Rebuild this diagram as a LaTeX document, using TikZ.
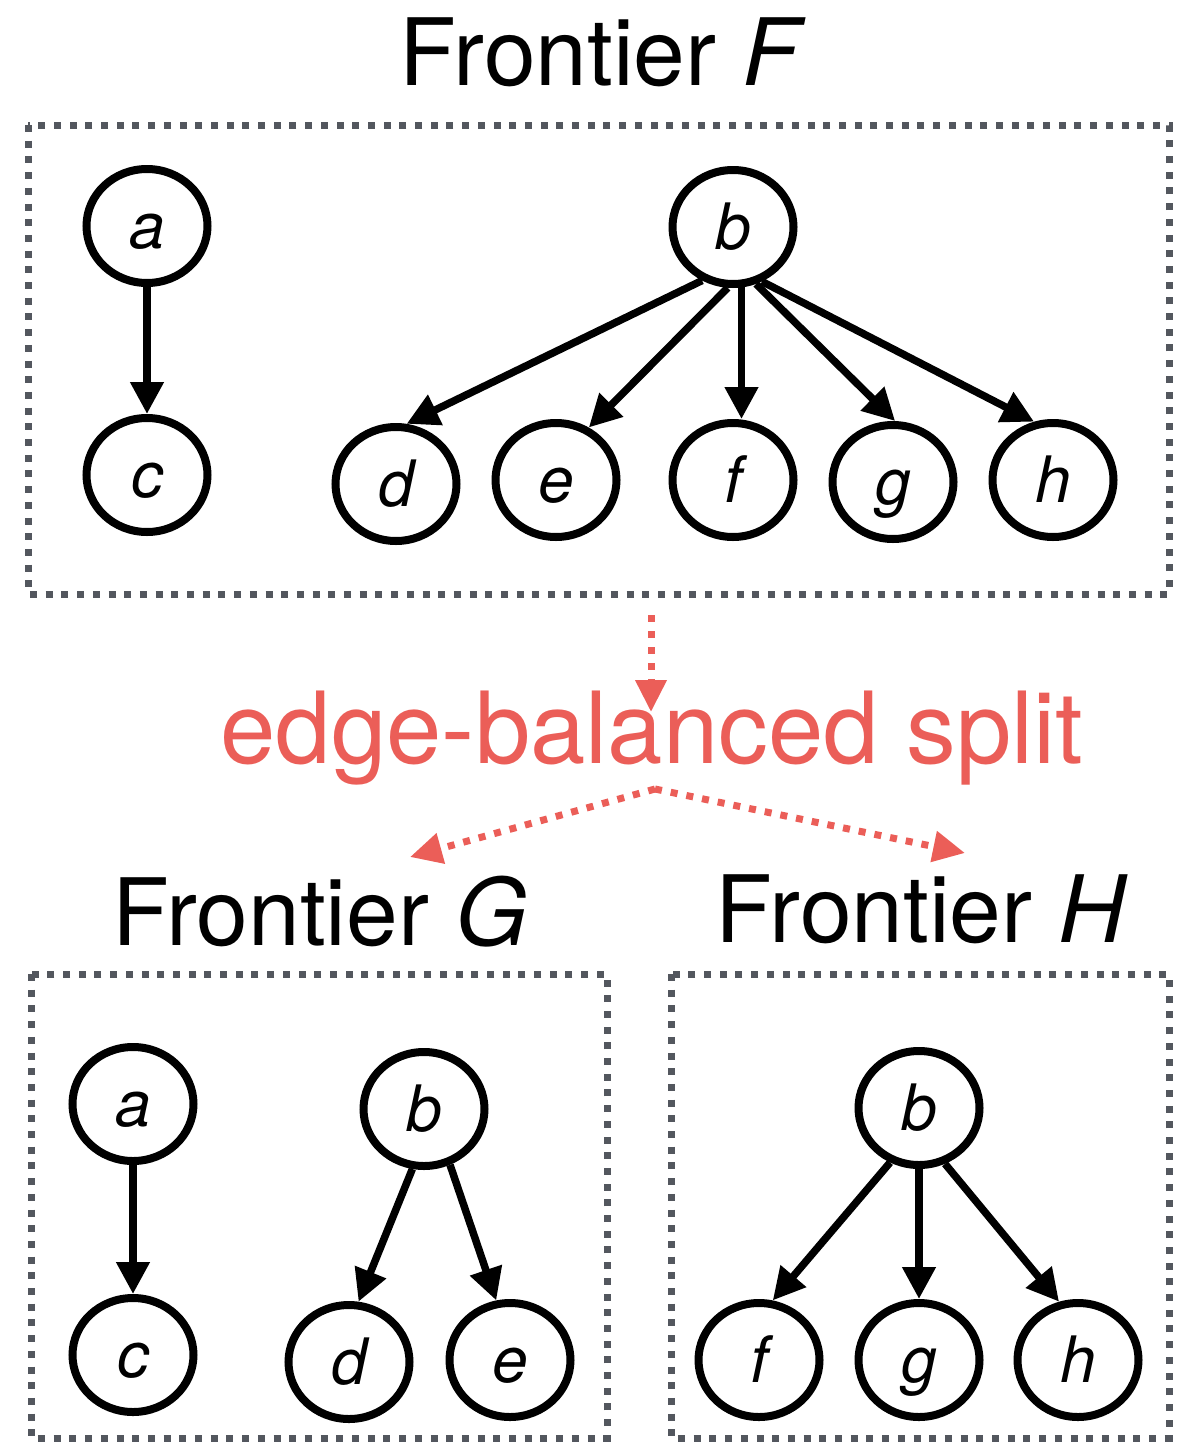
\documentclass[tikz,border=0pt]{standalone}
\usepackage{fontspec}
\setmainfont{TeX Gyre Heros}
\usetikzlibrary{shapes.geometric,arrows.meta}
\definecolor{boxgray}{HTML}{53575E}
\definecolor{splitred}{HTML}{EB5E58}
\tikzset{
  vtx/.style={ellipse,draw=black,line width=8pt,minimum width=121pt,minimum height=114pt,inner sep=0pt,
    text height=44pt,text depth=0pt,font=\fontsize{64}{70}\selectfont\itshape},
  edgearrow/.style={line width=7.5pt,-{Triangle[length=32pt,width=32pt]}},
  boxline/.style={draw=boxgray,line width=7pt,dash pattern=on 7pt off 8.7pt},
  splitarrow/.style={draw=splitred,line width=7pt,dash pattern=on 7pt off 9pt,-{Triangle[length=32pt,width=30pt]}},
  title/.style={anchor=base,font=\fontsize{93}{100}\selectfont,inner sep=0pt}
}
\begin{document}
\begin{tikzpicture}[x=1pt,y=-1pt]
\useasboundingbox (0,0) rectangle (1179,1445);
% ---------- Frontier F ----------
\node[title] (tF) at (603,85) {Frontier \textit{F}};
\draw[boxline] (28,125) rectangle (1169,594);
\node[vtx] (a1) at (147,226) {a};
\node[vtx] (c1) at (147,475) {c};
\node[vtx] (b1) at (733,227) {b};
\node[vtx] (d1) at (396,484) {d};
\node[vtx] (e1) at (556,480) {e};
\node[vtx] (f1) at (733,480) {f};
\node[vtx] (g1) at (893,482) {g};
\node[vtx] (h1) at (1053,480) {h};
\draw[edgearrow] (a1) -- (c1);
\draw[edgearrow] (b1.-120) -- (d1.80);
\draw[edgearrow] (b1.-95) -- (e1.58);
\draw[edgearrow] (b1.-82) -- (b1.-82 |- f1.north);
\draw[edgearrow] (b1.-68) -- (g1.88);
\draw[edgearrow] (b1.-62) -- (h1.108);
% ---------- split ----------
\coordinate (s0) at (651,615);
\coordinate (s1) at (651,712);
\node[anchor=base,font=\fontsize{99.5}{100}\selectfont,text=splitred,inner sep=0pt] (split) at (652,763) {edge-balanced split};
\coordinate (fork) at (655,789);
\coordinate (tipG) at (410,857);
\coordinate (tipH) at (965,853);
\draw[splitarrow] (s0) -- (s1);
\draw[splitarrow] (fork) -- (tipG);
\draw[splitarrow] (fork) -- (tipH);
% ---------- Frontier G ----------
\node[title] (tG) at (320,945) {Frontier \textit{G}};
\draw[boxline] (31,974) rectangle (607,1438);
\node[vtx] (a2) at (133,1104) {a};
\node[vtx] (c2) at (133,1355) {c};
\node[vtx] (b2) at (424,1109) {b};
\node[vtx] (d2) at (349,1362) {d};
\node[vtx] (e2) at (510,1360) {e};
\draw[edgearrow] (a2) -- (c2);
\draw[edgearrow] (b2.-101) -- (d2.81);
\draw[edgearrow] (b2.-65) -- (e2.103);
% ---------- Frontier H ----------
\node[title] (tH) at (922,942) {Frontier \textit{H}};
\draw[boxline] (671,974) rectangle (1169,1438);
\node[vtx] (b3) at (919,1108) {b};
\node[vtx] (f3) at (759,1360) {f};
\node[vtx] (g3) at (919,1360) {g};
\node[vtx] (h3) at (1078,1360) {h};
\draw[edgearrow] (b3.-118) -- (f3.77);
\draw[edgearrow] (b3) -- (g3);
\draw[edgearrow] (b3.-65) -- (h3.108);
\end{tikzpicture}
\end{document}
